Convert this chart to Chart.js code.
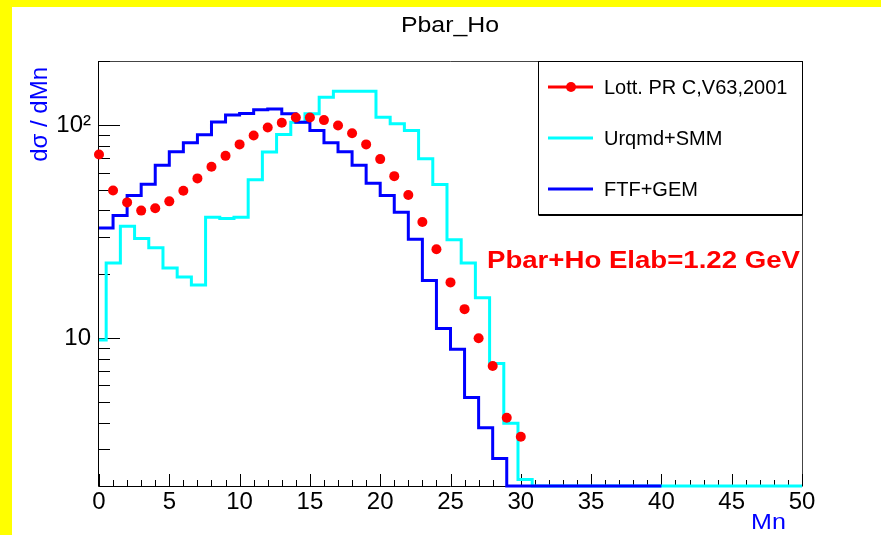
<html>
<head>
<meta charset="utf-8">
<script src="https://cdn.jsdelivr.net/npm/chart.js@4.4.1/dist/chart.umd.min.js"></script>
<style>
    *{padding:0; margin:0;}
    body{background:#fff;}
</style>
</head>
<body>
<canvas id="chart" width="881" height="535"></canvas>
<script>
// Lott. PR C,V63,2001 : data points at integer Mn
var mnPoints = [0,1,2,3,4,5,6,7,8,9,10,11,12,13,14,15,16,17,18,19,20,21,22,23,24,25,26,27,28,29,30];
var lottData = [73, 49.5, 43.5, 39.8, 40.8, 44, 49.3, 56.4, 64, 72, 81.5, 89.7, 97.9, 103, 109, 109,
                106, 100, 92, 81.5, 69.5, 57.8, 47.1, 35.2, 26.2, 18.3, 13.7, 10, 7.4, 4.23, 3.44];

// FTF+GEM histogram, 40 bins from 0
var ftfStart = 0, ftfBinWidth = 1;
var ftfGem = [33.0, 37.7, 46.9, 52.9, 65.1, 75.2, 83.0, 90.4, 104, 112, 113.8, 118.5, 119.7, 113.5,
              103.6, 94.7, 83, 75.3, 65.1, 53.5, 46.9, 39.1, 29.2, 18.7, 11.1, 8.88, 5.27, 3.79, 2.72,
              0, 0, 0, 0, 0, 0, 0, 0, 0, 0, 0];

// Urqmd+SMM histogram, 50 bins from -0.5 to 50
var urqStart = -0.5, urqBinWidth = 1.01;
var urqmdSmm = [9.8, 22.6, 33.6, 29.4, 26.6, 21.4, 19.4, 17.8, 37, 36.5, 37, 55.6, 75, 90.8, 103.6,
                113.5, 135.8, 145, 145, 145, 109.4, 101.8, 94.7, 69.8, 52.8, 29, 22.6, 15.5, 7.6, 3.98,
                2.17, 0, 0, 0, 0, 0, 0, 0, 0, 0, 0, 0, 0, 0, 0, 0, 0, 0, 0, 0];

var xTicks = [0, 5, 10, 15, 20, 25, 30, 35, 40, 45, 50];
var yTicks = [10, 100];
var yTickLabels = ['10', '10\u00b2'];
var yMin = 2.02, yMax = 201;

var FONT = 'Liberation Sans, Arial, sans-serif';

function histPoints(start, w, vals) {
    var pts = vals.map(function(v, i) {
        return {x: start + i * w, y: v > 0 ? v : yMin};
    });
    pts.push({x: start + vals.length * w, y: pts[pts.length - 1].y});
    return pts;
}

function stretchText(ctx, txt, x, y, sx, align) {
    ctx.save();
    ctx.translate(x, y);
    ctx.scale(sx, 1);
    ctx.textAlign = align || 'left';
    ctx.fillText(txt, 0, 0);
    ctx.restore();
}

var rootPlugin = {
    id: 'rootStyle',
    beforeDraw: function(chart) {
        var ctx = chart.ctx;
        ctx.save();
        ctx.fillStyle = '#fff';
        ctx.fillRect(0, 0, chart.width, chart.height);
        ctx.fillStyle = '#ffff00';
        ctx.fillRect(0, 0, chart.width, 7);
        ctx.fillRect(0, 0, 12, chart.height);
        ctx.restore();
    },
    beforeDatasetsDraw: function(chart) {
        var ctx = chart.ctx, a = chart.chartArea;
        var xs = chart.scales.x, ys = chart.scales.y;
        ctx.save();
        // frame
        ctx.lineWidth = 1;
        ctx.strokeStyle = '#444';
        ctx.beginPath();
        ctx.moveTo(a.left, a.top + 0.5); ctx.lineTo(a.right + 0.5, a.top + 0.5);
        ctx.lineTo(a.right + 0.5, a.bottom);
        ctx.stroke();
        ctx.strokeStyle = '#000';
        ctx.beginPath();
        ctx.moveTo(a.left - 0.5, a.top); ctx.lineTo(a.left - 0.5, a.bottom + 0.5);
        ctx.lineTo(a.right + 0.5, a.bottom + 0.5);
        ctx.stroke();
        // x ticks, inside
        ctx.beginPath();
        for (var i = 0; i <= 50; i++) {
            var px = Math.round(xs.getPixelForValue(i)) + 0.5;
            var len = (i % 5 === 0) ? 12 : 6;
            ctx.moveTo(px, a.bottom);
            ctx.lineTo(px, a.bottom - len);
        }
        // y ticks, inside
        [1, 10, 100].forEach(function(d) {
            for (var m = 1; m <= 9; m++) {
                var v = m * d;
                if (v < yMin || v > yMax) continue;
                var py = Math.round(ys.getPixelForValue(v)) + 0.5;
                ctx.moveTo(a.left, py);
                ctx.lineTo(a.left + (m === 1 ? 21 : 11), py);
            }
        });
        ctx.stroke();
        ctx.restore();
    },
    afterDraw: function(chart) {
        var ctx = chart.ctx, a = chart.chartArea;
        ctx.save();
        ctx.textBaseline = 'alphabetic';
        // title
        ctx.fillStyle = '#000';
        ctx.font = '22px ' + FONT;
        stretchText(ctx, 'Pbar_Ho', 450, 32, 1.13, 'center');
        // axis titles
        ctx.fillStyle = '#0000ff';
        ctx.font = '22px ' + FONT;
        stretchText(ctx, 'Mn', 751, 529, 1.14, 'left');
        ctx.save();
        ctx.translate(47, 67);
        ctx.rotate(-Math.PI / 2);
        ctx.font = '24px ' + FONT;
        ctx.textAlign = 'right';
        ctx.fillText('d\u03c3 / dMn', 0, 0);
        ctx.restore();
        // annotation
        ctx.fillStyle = '#ff0000';
        ctx.font = 'bold 24px ' + FONT;
        stretchText(ctx, 'Pbar+Ho Elab=1.22 GeV', 487, 268, 1.15, 'left');
        // legend
        var lx = 538.5, ly = a.top + 0.5, lw = a.right - 538, lh = 153;
        ctx.fillStyle = '#fff';
        ctx.fillRect(lx, ly, lw, lh);
        ctx.strokeStyle = '#000';
        ctx.lineWidth = 1;
        ctx.strokeRect(lx, ly, lw, lh);
        ctx.beginPath();
        ctx.moveTo(lx, ly + lh + 1); ctx.lineTo(lx + lw, ly + lh + 1);
        ctx.stroke();
        ctx.font = '20px ' + FONT;
        ctx.textBaseline = 'middle';
        chart.data.datasets.forEach(function(ds, i) {
            var ey = 87 + i * 51;
            var col = ds.showLine === false ? ds.backgroundColor : ds.borderColor;
            ctx.strokeStyle = col;
            ctx.lineWidth = 3;
            ctx.beginPath();
            ctx.moveTo(548, ey); ctx.lineTo(593, ey);
            ctx.stroke();
            if (ds.showLine === false) {
                ctx.fillStyle = col;
                ctx.beginPath();
                ctx.arc(571, ey, 5, 0, Math.PI * 2);
                ctx.fill();
            }
            ctx.fillStyle = '#000';
            ctx.fillText(ds.label, 604, ey + 1);
        });
        ctx.restore();
    }
};

var ctx = document.getElementById('chart').getContext('2d');
var config = {
    type: 'line',
    data: {
        datasets: [{
            label: 'Lott. PR C,V63,2001',
            data: mnPoints.map(function(x, i) { return {x: x, y: lottData[i]}; }),
            showLine: false,
            pointRadius: 5,
            pointStyle: 'circle',
            backgroundColor: '#ff0000',
            borderColor: '#ff0000',
            pointBorderWidth: 0,
            order: 0,
            clip: false
        }, {
            label: 'Urqmd+SMM',
            data: histPoints(urqStart, urqBinWidth, urqmdSmm),
            stepped: 'before',
            borderColor: '#00ffff',
            borderWidth: 3,
            pointRadius: 0,
            fill: false,
            order: 2,
            clip: {left: 0, top: 0, right: 2, bottom: 2}
        }, {
            label: 'FTF+GEM',
            data: histPoints(ftfStart, ftfBinWidth, ftfGem),
            stepped: 'before',
            borderColor: '#0000ff',
            borderWidth: 3,
            pointRadius: 0,
            fill: false,
            order: 1,
            clip: {left: 0, top: 0, right: 2, bottom: 2}
        }]
    },
    options: {
        responsive: false,
        animation: false,
        devicePixelRatio: 1,
        layout: {padding: {top: 61, right: 79, left: 0, bottom: 0}},
        plugins: {legend: {display: false}, tooltip: {enabled: false}},
        scales: {
            x: {
                type: 'linear', min: 0, max: 50,
                afterBuildTicks: function(s) { s.ticks = xTicks.map(function(v) { return {value: v}; }); },
                afterFit: function(s) { s.height = 49; },
                grid: {display: false, drawTicks: false},
                border: {display: false},
                ticks: {padding: 2, color: '#000', maxRotation: 0, autoSkip: false,
                        font: {family: FONT, size: 24}}
            },
            y: {
                type: 'logarithmic', min: yMin, max: yMax,
                afterBuildTicks: function(s) { s.ticks = yTicks.map(function(v) { return {value: v}; }); },
                afterFit: function(s) { s.width = 99; },
                grid: {display: false, drawTicks: false},
                border: {display: false},
                ticks: {padding: 8, color: '#000', font: {family: FONT, size: 24},
                        callback: function(v) { var k = yTicks.indexOf(v); return k >= 0 ? yTickLabels[k] : ''; }}
            }
        }
    },
    plugins: [rootPlugin]
};
var chart = new Chart(ctx, config);
</script>
</body>
</html>
